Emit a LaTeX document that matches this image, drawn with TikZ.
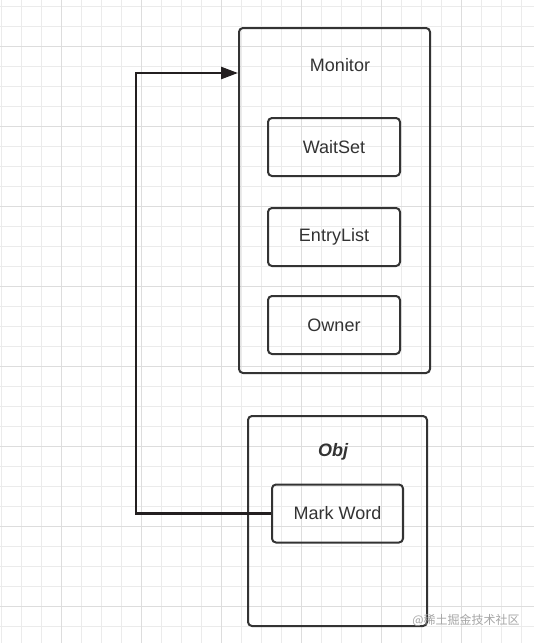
\documentclass[tikz,border=0pt]{standalone}
\usepackage{fontspec}
\setmainfont{Liberation Sans}
\newfontfamily\cjkfont{Noto Sans CJK SC}
\usetikzlibrary{arrows.meta}
\definecolor{trait}{HTML}{333333}
\definecolor{fleche}{HTML}{231F20}
\definecolor{grillemin}{HTML}{EBEBEB}
\definecolor{grillemaj}{HTML}{DDDDDD}
\tikzset{grille/.style={
    draw=grillemin,
    line width=0.8pt}}
\tikzset{boite/.style={
    draw=trait,
    line width=2pt,
    rounded corners=4pt,
    inner sep=0pt}}
\tikzset{champ/.style={
    boite,
    minimum width=132pt,
    minimum height=58pt,
    text=trait,
    font=\fontsize{18}{22}\selectfont}}
\tikzset{lien/.style={
    -{Triangle[length=17pt,width=12pt]},
    draw=fleche,
    line width=2.5pt}}

\begin{document}
\begin{tikzpicture}[x=1pt,y=-1pt]
  % fond
\useasboundingbox (0,0) rectangle (534,643);
\fill[white] (0,0) rectangle (534,643);
\foreach \i in {0,...,26}
  \draw[grille] (1.7+20*\i,0) -- ++(0,643);
\foreach \j in {0,...,31}
  \draw[grille] (0,6+20*\j) -- ++(534,0);
\foreach \i in {3,7,...,23}
  \draw[grille,draw=grillemaj] (1.7+20*\i,0) -- ++(0,643);
\foreach \j in {2,6,...,30}
  \draw[grille,draw=grillemaj] (0,6+20*\j) -- ++(534,0);

  % monitor
\node[boite,minimum width=191pt,minimum height=345pt] (mon) at (334.5,200.5) {};
\node[text=trait,font=\fontsize{18}{22}\selectfont] (titremon) at (340,65) {Monitor};
\node[champ] (waitset) at (334,147) {WaitSet};
\node[champ] (entrylist) at (334,237) {EntryList};
\node[champ] (owner) at (334,325) {Owner};

  % obj
\node[boite,minimum width=179pt,minimum height=210pt] (obj) at (337.5,521) {};
\node[text=trait,font=\fontsize{18}{22}\selectfont\bfseries\itshape] (titreobj) at (333,452) {Obj};
\node[champ,minimum width=131pt] (mw) at (337.5,513.5) {Mark Word};

  % lien
\coordinate (coude) at (136,73);
\draw[lien] (mw.west) -| (coude) -- (mon.west |- coude);

  % filigrane
\node[text=black!35,font=\cjkfont\fontsize{12}{14}\selectfont] (marque) at (466,620) {@稀土掘金技术社区};
\end{tikzpicture}
\end{document}
